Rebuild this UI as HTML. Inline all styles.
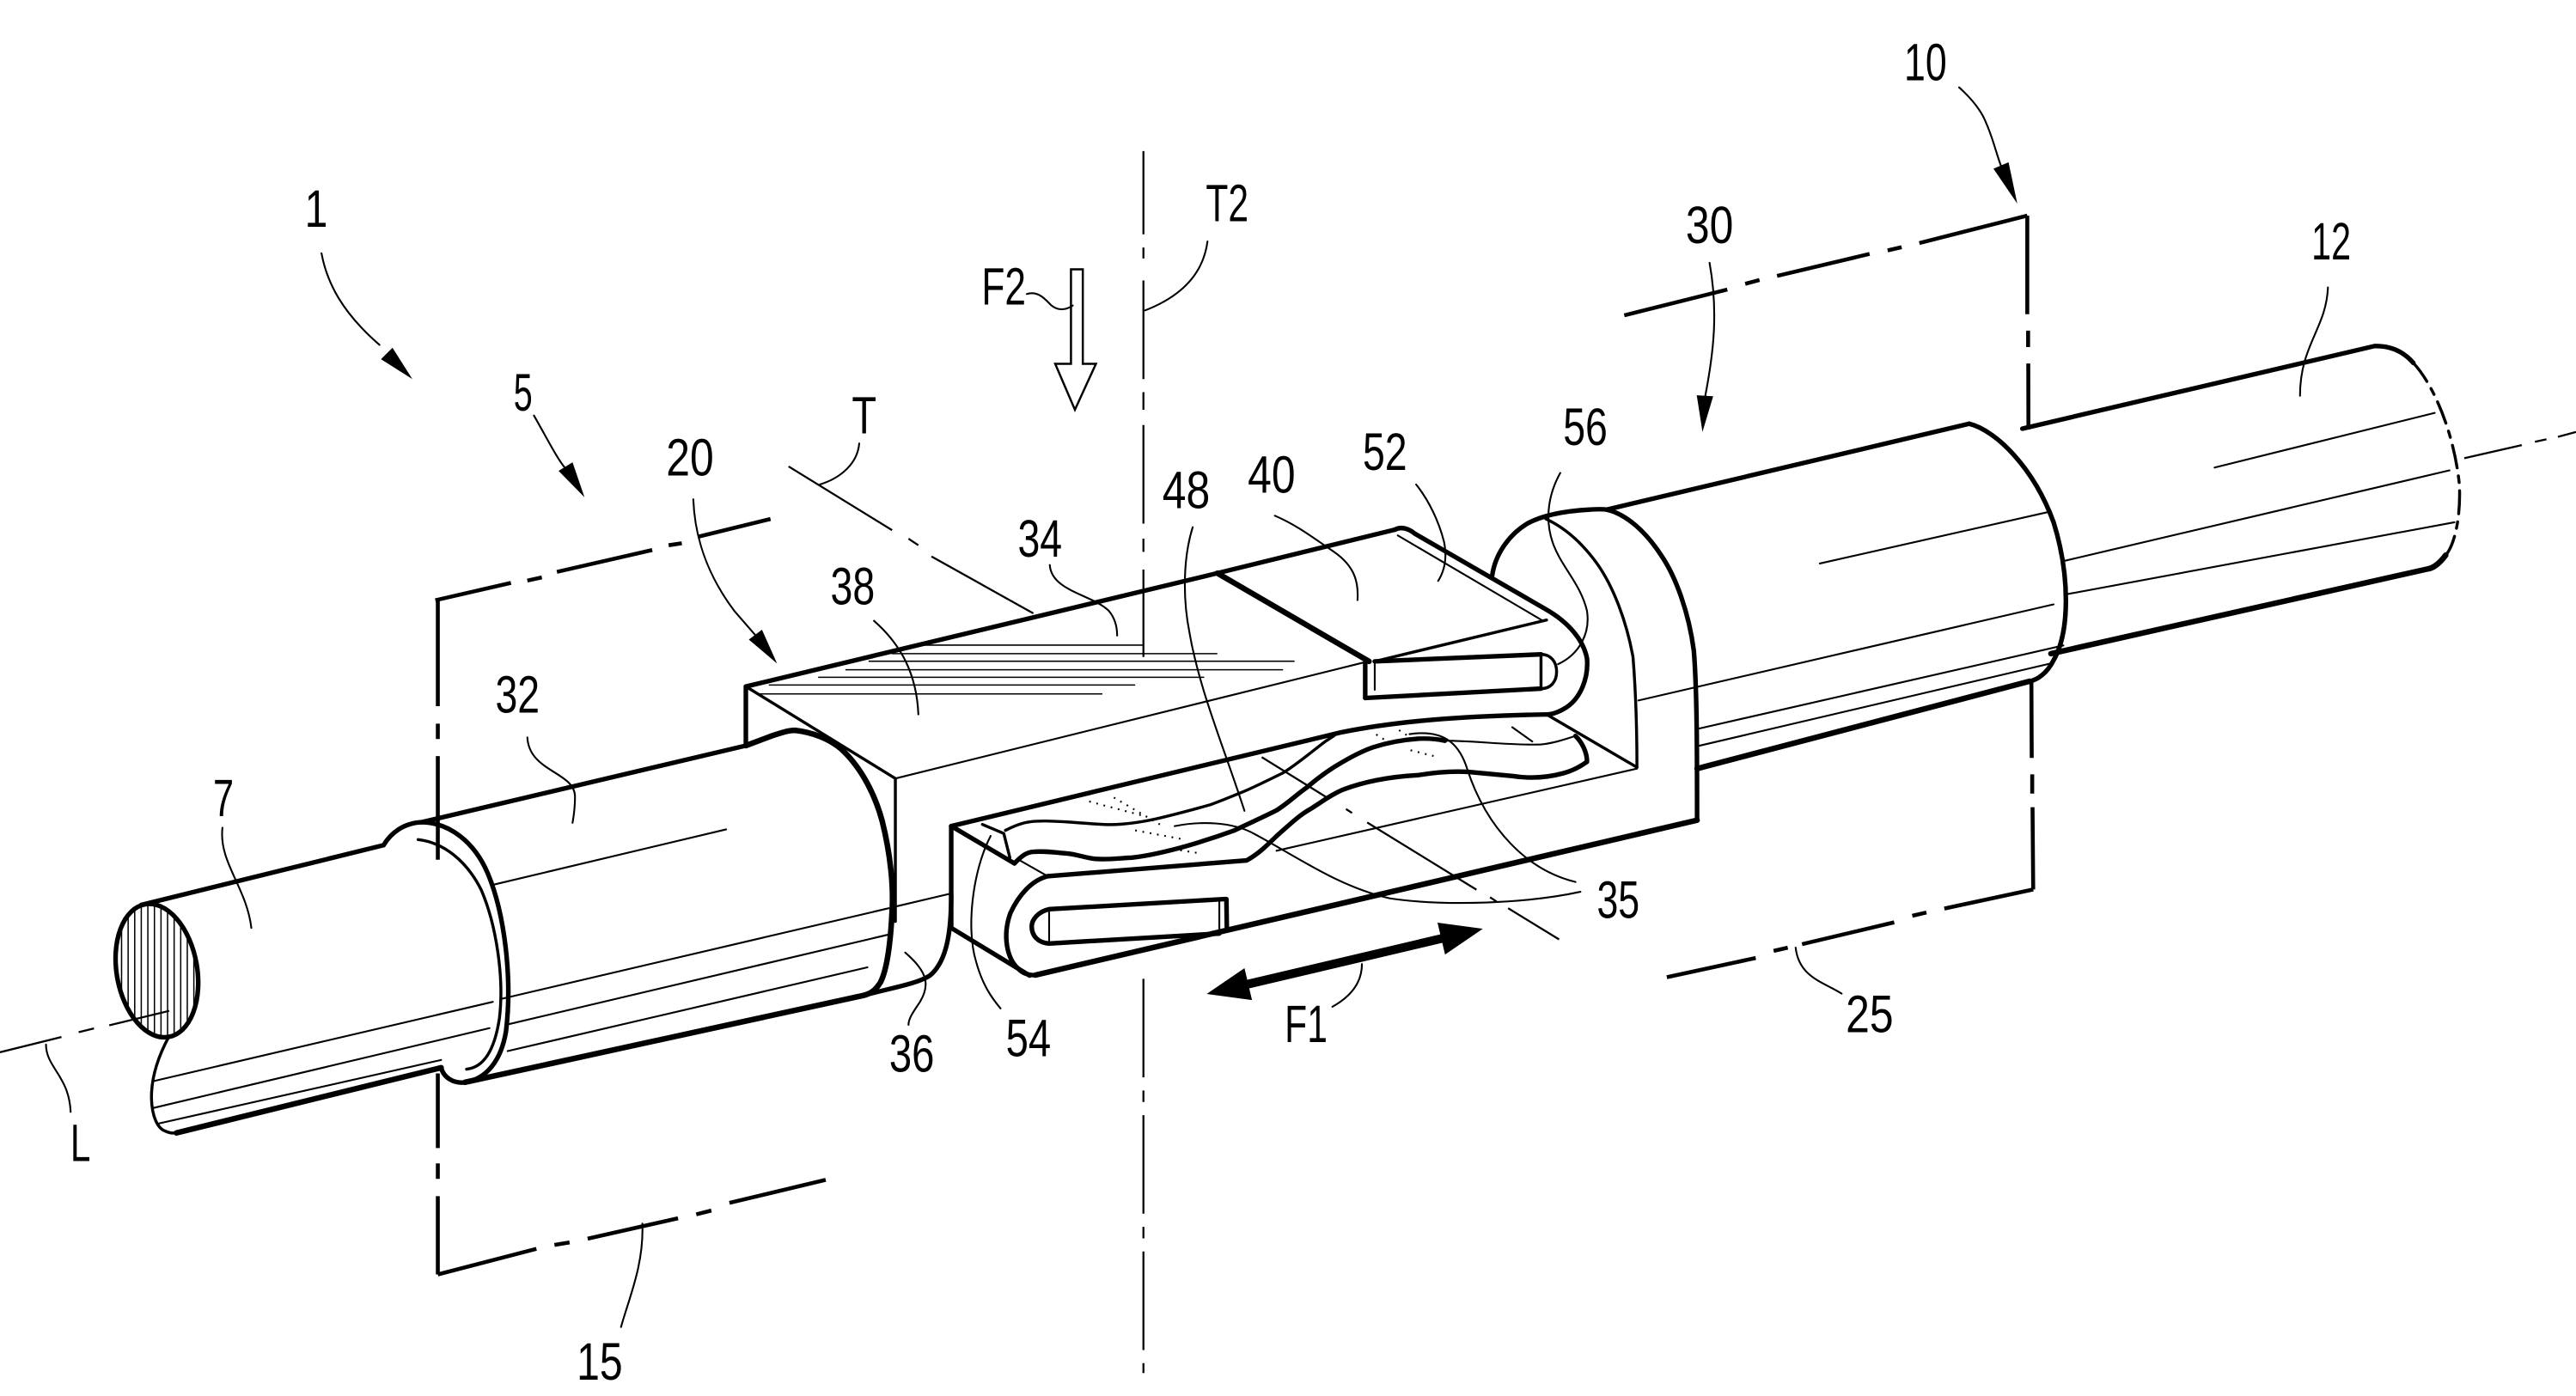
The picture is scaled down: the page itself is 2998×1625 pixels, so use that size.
<!DOCTYPE html>
<html><head><meta charset="utf-8"><style>
html,body{margin:0;padding:0;background:#fff;overflow:hidden}
svg{display:block}
.k{fill:none;stroke:#000;stroke-width:2.8;stroke-linecap:round;stroke-linejoin:round}
.kk{fill:none;stroke:#000;stroke-width:3.4;stroke-linecap:round;stroke-linejoin:round}
.m{fill:none;stroke:#000;stroke-width:1.8;stroke-linecap:round;stroke-linejoin:round}
.t{fill:none;stroke:#000;stroke-width:1.1;stroke-linecap:round;stroke-linejoin:round}
.h{fill:none;stroke:#000;stroke-width:0.8}
.b{fill:none;stroke:#000;stroke-width:2.4;stroke-linecap:butt}
.c{fill:none;stroke:#000;stroke-width:1.2;stroke-linecap:butt}
.d{fill:none;stroke:#000;stroke-width:1.1;stroke-dasharray:1 3.5}
text{font-family:"Liberation Sans Narrow","Liberation Sans",Arial,sans-serif;font-size:32px;fill:#000;text-anchor:middle}
</style></head><body>
<svg xmlns="http://www.w3.org/2000/svg" width="2998" height="1625" viewBox="0 0 1568 850" preserveAspectRatio="none">
<rect x="0" y="0" width="1568" height="850" fill="#fff"/>
<defs>
<clipPath id="ec"><ellipse cx="95.5" cy="591" rx="24.5" ry="41" transform="rotate(-10 95.5 591)"/></clipPath>
</defs>

<!-- bracket 15 -->
<path class="b" d="M265,365.5L311,354.9M321,353.5L329.8,351.6M339,348.2L397,334.9M407,332L415,330.8M425,326.8L469,316"/>
<path class="b" d="M266.5,365.5L266.5,430M266.5,440.6L266.5,450M266.5,460.4L266.5,523.5M266.5,653.6L266.5,699M266.5,708.4L266.5,717.8M266.5,728.3L266.5,776"/>
<path class="b" d="M266.5,776L326.5,760.4M337.5,758L346.7,756.5M357.7,754.2L412.7,741.8M423.8,739.4L433,737.1M444,732.4L502.6,718.4"/>
<!-- bracket 25 -->
<path class="b" d="M1234,131.3L1168.3,148M1157.5,150.5L1149,152.5M1138,154.6L1081.7,168M1071,170.5L1062.3,172.8M1051.4,176.3L988.7,192"/>
<path class="b" d="M1234,131.3L1234,191.3M1234.5,201.3L1234.5,211.3M1234.6,221.3L1234.7,261.4M1236.5,414.8L1236.7,461.5M1237,471.5L1237,483.2M1237.2,491.5L1237.6,541.6"/>
<path class="b" d="M1237.6,541.6L1183.5,553.2M1172.6,555.6L1164,557.6M1153,561.6L1096.9,574.9M1088.2,577L1079.6,579M1068.7,583.3L1014.6,595"/>
<!-- axis L -->
<path class="c" d="M0,640.7L37.4,631.4M47.9,628.5L57.2,626.2M66.5,624.3L103,615.5M1500,279L1535,271M1543,269L1550,267.5M1557,266L1568,263"/>
<!-- T2 -->
<path class="c" d="M696,92L696,142.7M696,150.7L696,157.4M696,170.8L696,230.8M696,238.8L696,249.5M696,258.8L696,318.8M696,328L696,336M696,346.8L696,400M696,596L696,656M696,664L696,671M696,679L696,739M696,747L696,754M696,762L696,822M696,830L696,836"/>
<!-- T line -->
<path class="c" d="M480,284L543,322.8M553,328L559,332M567,338.8L629,373.5M768,461L807.7,485.6M819.3,492.6L823,495M832.2,500.8L898.7,541.7M907,546.3L911,549M918,553L949,572"/>

<!-- rod 7 -->
<g clip-path="url(#ec)">
<path class="h" d="M70,540V640M74,540V640M78,540V640M82,540V640M86,540V640M90,540V640M94,540V640M98,540V640M102,540V640M106,540V640M110,540V640M114,540V640M118,540V640M122,540V640"/>
</g>
<ellipse class="k" cx="95.5" cy="591" rx="24.5" ry="41" transform="rotate(-10 95.5 591)"/>
<path class="k" d="M86,551L233.5,514.6"/>
<path class="m" d="M102.7,631.4C97,642 92,655 92.2,668.8C92.5,680 96,687 100.4,688.6C103,690 105,690 107.4,689.8"/>
<path class="kk" d="M107.4,689.8L268.5,650.1"/>
<path class="t" d="M93.4,658.3L300,610M93.4,674.6L298,626M97,684L268.5,645.4"/>

<!-- sleeve 32 -->
<path class="k" d="M233.5,514.6C238,507 246,501 256.8,500.6C274,501 289,513 297,532C307,556 312,595 308,628C305,646 296,657 283,659C276,660 270,656 268.5,650.1"/>
<path class="m" d="M254.5,511.2C270,513 284,524 293,542C302,563 307,595 304,620C301,640 294,650 284,651"/>
<path class="k" d="M256.8,500.6L454,454"/>
<path class="kk" d="M283,659L526,606"/>
<path class="t" d="M299,539L442,505M306,608L541,553M308,624L541,569M309,640L528,589"/>

<!-- block 20 top -->
<path class="k" d="M454,454L454,418L741,349L849,322.5"/>
<path class="m" d="M454,418L545,474L545,561"/>
<path class="t" d="M545,474L831.6,403"/>
<path class="h" d="M559,392.8H696M542.7,398H741M528.7,402.6H788M514.6,407.8H781M498,412.4H733M468,417.1H691M461,422.5H671"/>
<!-- sleeve right end -->
<path class="kk" d="M454,454L470,448C476,446 480,444.7 484,444.7C495,446 505,450 512,456C525,468 533,485 537,500C542,520 544,540 543,555C542,575 540,590 536,598C533,603 530,605 526,606"/>
<!-- tab 36 -->
<path class="k" d="M579,545C579,565 577,585 566,594C558,599 545,601 526,606"/>
<path class="t" d="M545,552L579,544"/>

<!-- window and lower U (54) -->
<path class="k" d="M579,503L816,446C850,439 890,436 941.4,435"/>
<path class="k" d="M579,503L579,565L626.7,594"/>
<path class="k" d="M579,503L617.5,525.7"/>
<path class="k" d="M637.7,533.5C628,536 620,545 615,556C610,570 613,584 620,590C623,593 627,594 630.3,593.7"/>
<path class="kk" d="M630.3,593.7L1033,499.4"/>
<path class="k" d="M637.7,533.5L758.8,523.9C766,520 772,514 777,509.1C784,503 790,497 797,493C805,488 810,484 817,481C830,476 845,473 863,472C875,470 885,469.5 894,470C905,471 915,472 920.5,472.5C930,474 940,474 952,470.7C958,469 963,466 966,463.8C966,458 963,452 959,448.1"/>
<path class="t" d="M621,524L637.7,533.5"/>
<path class="k" d="M745.9,547.4L638.6,553.6C632,555 628,560 628,564C628,570 632,574 638.6,574.5L742.2,568.4"/>
<path class="t" d="M638.6,553.6L638.6,574.5M742.2,548L742.2,568.4"/>
<path class="k" d="M746.5,547.4L746.8,566.6"/>
<!-- spring 48 -->
<path class="k" d="M617.5,525.7C622,521 625,519 628.5,518.7C635,518 642,519 648.7,519.6C655,520 661,522.5 667,523C675,523.5 682,522.5 689,522.2C700,521 712,518 722,515.2C733,512 742,509 751.4,505.6C761,501 770,497 777,493.4C784,489 789,484 795.4,479.5C803,473 810,468 817.5,463.8C824,460 830,457 835.8,455C845,452 853,450.5 863,449.8C870,449.5 875,450 879.5,451"/>
<path class="m" d="M612,505.6C617,503 622,501 626.7,500.4C634,499.5 641,500 648.7,500.4C658,501 667,502 676.2,502.1C686,502 695,500.5 703.7,498.6C715,496 726,493 736.7,490C745,487 752,484 758.8,481.2C766,478 774,474 780.8,470.7C790,465 798,458 806.5,451.6L812,448"/>
<path class="t" d="M879.5,451C898,451 920,454 938,453.3C946,452.5 953,450 959,448.1"/>
<path class="m" d="M598,502L611,507.5L614.7,522.2"/>
<path class="m" d="M941.4,435L996.4,467.2"/>
<path class="t" d="M777,518L996.4,468M920.5,442.8L932.7,451.5"/>
<path class="d" d="M663,488L697,497M678,485.6L706,502M691,505.6L720,511M714,517L730,519.5M837.7,447.2L847.3,453.3M851.6,444.6L861.2,450.7M858.6,456.8L872.6,460.3"/>

<!-- upper arm 40 / 52 -->
<path class="kk" d="M741,349L833.3,402.7"/>
<path class="k" d="M831,403L831,425"/>
<path class="t" d="M836.8,403L836.8,420"/>
<path class="m" d="M836.8,402.7L941.4,377.5"/>
<path class="k" d="M836.8,402.7L938,398.4M831,425L938,419.3"/>
<path class="m" d="M938,398.4L938,419.3M938,398.4C944,398.5 947.5,403 947.5,409C947.5,415 944,419.3 938,419.3"/>
<path class="k" d="M849,322.5C853,320.5 857,321.5 861.3,325L941,371C955,379 964,390 966,401C967,413 962,425 953.6,430.6C949,433.5 945,435 941.4,435"/>
<path class="t" d="M850.8,326L939.7,378.3"/>

<!-- flange 56 -->
<path class="k" d="M908.3,350.4C910,338 918,326 929.3,319C940,313 955,311 967.6,310.3C972,310 976,310 978,310.3C990,313 1002,324 1011.2,338.2C1020,351 1028,373 1031,396C1033,420 1033,460 1033,499.4"/>
<path class="m" d="M941,316C954,322 964,332 972,343C982,357 990,378 994,400C996,425 996.4,450 996.4,467.2"/>

<!-- sleeve 30 -->
<path class="k" d="M978,310.3L1198.6,258"/>
<path class="k" d="M1198.6,258C1215,262 1238,285 1250,318C1260,350 1260,385 1250,402C1246,410 1240,414 1235.4,414.8"/>
<path class="kk" d="M1033,468L1235.4,414.8"/>
<path class="t" d="M1107.7,343.1L1248.4,311.4M997.3,426.5L1250,368M1033.8,443.7L1256,393M1033.8,454.2L1248,404"/>

<!-- tube 12 -->
<path class="k" d="M1231,261L1445.4,210.7C1455,210.5 1463,214 1469,221"/>
<path class="m" style="stroke-dasharray:14 5 4 5" d="M1469,221C1482,235 1494,265 1497,295C1498,315 1494,332 1488.7,338"/>
<path class="kk" d="M1488.7,338C1485,343 1481,346 1477.8,346.4L1248.4,398"/>
<path class="t" d="M1348,284.7L1482,251.4M1257,341.4L1491,286.4M1257,362L1494,318"/>

<!-- F2 hollow arrow -->
<polygon points="651.9,164 659.1,164 659.1,221.5 667.1,221.5 654.3,249.5 642.3,221.5 651.9,221.5" fill="#fff" stroke="#000" stroke-width="1.3" stroke-linejoin="miter"/>
<!-- F1 double arrow -->
<polygon points="734.5,605.2 757.5,589.5 759.2,596.6 876.7,568.9 875,561.8 902.6,565.5 879.6,581.2 877.9,574.1 760.4,601.8 762.1,608.9" fill="#000"/>

<!-- leaders / arrows -->
<path class="t" d="M195.7,154.2C199,172 208,190 231,210"/>
<polygon points="251,230.8 231.9,218.7 238.9,211.7" fill="#000"/>
<path class="t" d="M325,253C333,267 339,279 344,285"/>
<polygon points="355.8,302.8 340,286.7 348.5,281.5" fill="#000"/>
<path class="t" d="M422,304C423,330 432,352 447,372L460,387"/>
<polygon points="473,404 455.8,389.4 463.8,383.4" fill="#000"/>
<path class="t" d="M1192.5,53.2C1200,60 1206,67 1209,75C1213,84 1215,93 1218,101"/>
<polygon points="1227.9,124 1213.4,102.7 1222.6,98.8" fill="#000"/>
<path class="t" d="M1040.6,160C1046,190 1043,215 1038,241"/>
<polygon points="1036.3,263 1032.8,240.7 1042.8,241.3" fill="#000"/>
<path class="t" d="M523,270C522,282 512,291 499,295"/>
<path class="t" d="M735,147C732,170 715,182 697,189"/>
<path class="t" d="M625,179C632,177 636,182 640,186C645,190 650,188 653,186"/>
<path class="t" d="M639,344C640,360 665,362 675,372C680,378 680,385 680,387"/>
<path class="t" d="M532,378C548,392 558,410 559,435"/>
<path class="t" d="M726,321C720,340 720,365 724,385C730,420 745,455 757.5,493.7"/>
<path class="t" d="M776,314C790,320 800,328 812,336C825,345 827,355 826.3,365.4"/>
<path class="t" d="M862,295C870,305 876,318 879,330C881,340 879,348 875.4,353.7"/>
<path class="t" d="M949.7,288C943,300 940,315 945,330C950,345 962,355 966,372C968,385 962,398 948.4,404.4"/>
<path class="t" d="M1417,175C1416,200 1400,210 1400,241"/>
<path class="t" d="M321,449C322,470 350,470 350,485C350,493 349,498 348.5,501"/>
<path class="t" d="M135.4,504C133,525 150,540 153,565"/>
<path class="t" d="M28,636C28,650 42,655 43,677"/>
<path class="t" d="M551,580C565,592 566,600 560,610C556,616 553,620 553,624"/>
<path class="t" d="M603,509C592,530 588,565 594,585C598,600 604,608 609,614"/>
<path class="t" d="M829,587C829,600 820,608 811,613"/>
<path class="t" d="M959,537C930,530 905,505 893,468C888,452 878,444 858,447"/>
<path class="t" d="M962,543C930,550 880,552 846,547C815,540 790,522 764,508C750,500 730,500 715,503"/>
<path class="t" d="M1093,577C1095,595 1110,598 1121,605"/>
<path class="t" d="M391,745C392,770 383,790 378,808"/>

<!-- labels -->
<text x="192.5" y="138" textLength="14" lengthAdjust="spacingAndGlyphs">1</text>
<text x="318.4" y="250" textLength="11.5" lengthAdjust="spacingAndGlyphs">5</text>
<text x="420" y="289.5" textLength="29" lengthAdjust="spacingAndGlyphs">20</text>
<text x="526" y="264" textLength="15" lengthAdjust="spacingAndGlyphs">T</text>
<text x="611" y="185.4" textLength="27" lengthAdjust="spacingAndGlyphs">F2</text>
<text x="747" y="134.7" textLength="26" lengthAdjust="spacingAndGlyphs">T2</text>
<text x="633" y="339" textLength="27" lengthAdjust="spacingAndGlyphs">34</text>
<text x="519" y="368" textLength="27" lengthAdjust="spacingAndGlyphs">38</text>
<text x="722" y="309.5" textLength="29" lengthAdjust="spacingAndGlyphs">48</text>
<text x="774" y="300" textLength="29" lengthAdjust="spacingAndGlyphs">40</text>
<text x="843" y="286" textLength="27" lengthAdjust="spacingAndGlyphs">52</text>
<text x="965" y="271" textLength="27" lengthAdjust="spacingAndGlyphs">56</text>
<text x="1040.6" y="148" textLength="29" lengthAdjust="spacingAndGlyphs">30</text>
<text x="1172" y="48.8" textLength="26" lengthAdjust="spacingAndGlyphs">10</text>
<text x="1419" y="158" textLength="24" lengthAdjust="spacingAndGlyphs">12</text>
<text x="315" y="434" textLength="27" lengthAdjust="spacingAndGlyphs">32</text>
<text x="136" y="497" textLength="12.6" lengthAdjust="spacingAndGlyphs">7</text>
<text x="49" y="707" textLength="12.3" lengthAdjust="spacingAndGlyphs">L</text>
<text x="555" y="652.5" textLength="27.5" lengthAdjust="spacingAndGlyphs">36</text>
<text x="626" y="643" textLength="27.5" lengthAdjust="spacingAndGlyphs">54</text>
<text x="795" y="634.5" textLength="26" lengthAdjust="spacingAndGlyphs">F1</text>
<text x="985" y="559" textLength="26" lengthAdjust="spacingAndGlyphs">35</text>
<text x="1138" y="628.5" textLength="29" lengthAdjust="spacingAndGlyphs">25</text>
<text x="365" y="840" textLength="28" lengthAdjust="spacingAndGlyphs">15</text>
</svg>
</body></html>
